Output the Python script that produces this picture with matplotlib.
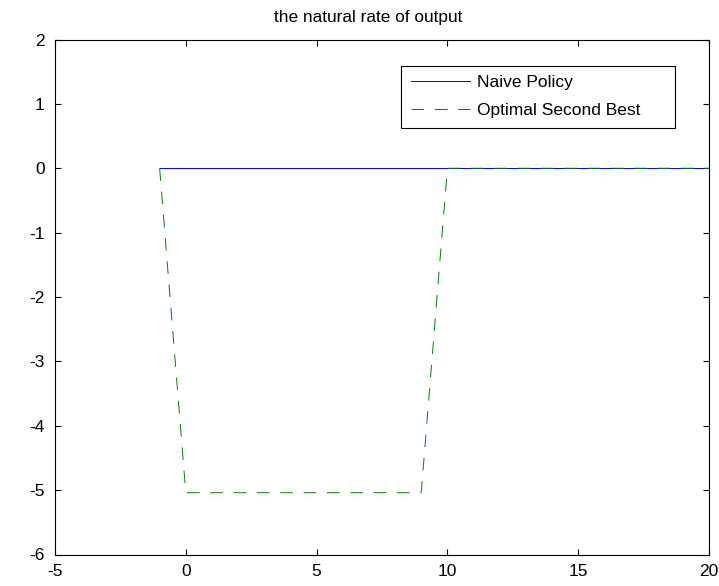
import matplotlib
matplotlib.use("Agg")
import matplotlib.pyplot as plt

# data
x_naive = [-1, 0, 1, 2, 3, 4, 5, 6, 7, 8, 9, 10, 11, 12, 13, 14, 15, 16, 17, 18, 19, 20]
y_naive = [0.0] * len(x_naive)
x_opt = [-1, 0, 1, 2, 3, 4, 5, 6, 7, 8, 9, 10, 11, 12, 13, 14, 15, 16, 17, 18, 19, 20]
y_opt = [0.0, -5.04, -5.04, -5.04, -5.04, -5.04, -5.04, -5.04, -5.04, -5.04, -5.04,
         0.0, 0.0, 0.0, 0.0, 0.0, 0.0, 0.0, 0.0, 0.0, 0.0, 0.0]
xticks = [-5, 0, 5, 10, 15, 20]
yticks = [-6, -5, -4, -3, -2, -1, 0, 1, 2]

plt.rcParams['font.family'] = ['Liberation Sans', 'DejaVu Sans']
plt.rcParams['axes.unicode_minus'] = False
W, H = 719, 586
fig = plt.figure(figsize=(W/100, H/100), dpi=100)
L, R, T, B = 55, 709, 39.5, 554.5
ax = fig.add_axes([L/W, 1-B/H, (R-L)/W, (B-T)/H])
ax.plot(x_naive, y_naive, color='#0000ff', lw=0.7, label='Naive Policy')
ax.plot(x_opt, y_opt, color='#008000', lw=0.7, dashes=(13, 11), label='Optimal Second Best')
ax.set_xlim(-5, 20)
ax.set_ylim(-6, 2)
ax.set_xticks(xticks)
ax.set_yticks(yticks)
ax.tick_params(direction='in', top=True, right=True, labelsize=12.5, length=4, width=0.8)
ax.tick_params(axis='x', pad=6.5)
ax.tick_params(axis='y', pad=7.5)
for s in ax.spines.values():
    s.set_linewidth(0.8)
ax.set_title('the natural rate of output', fontsize=12.4, pad=12.5, x=(368-L)/(R-L))
lx0, ly0, lx1, ly1 = 401, 65.7, 675, 127.7
leg = ax.legend(loc='upper left', bbox_to_anchor=(lx0/W, 1-ly1/H, (lx1-lx0)/W, (ly1-ly0)/H),
                bbox_transform=fig.transFigure, mode='expand',
                fontsize=12.5, fancybox=False, edgecolor='black', framealpha=1,
                handlelength=3.45, handletextpad=0.35, borderpad=0.55, labelspacing=0.74,
                borderaxespad=0)
leg.get_frame().set_linewidth(0.8)
fig.savefig('out.png', dpi=100)
